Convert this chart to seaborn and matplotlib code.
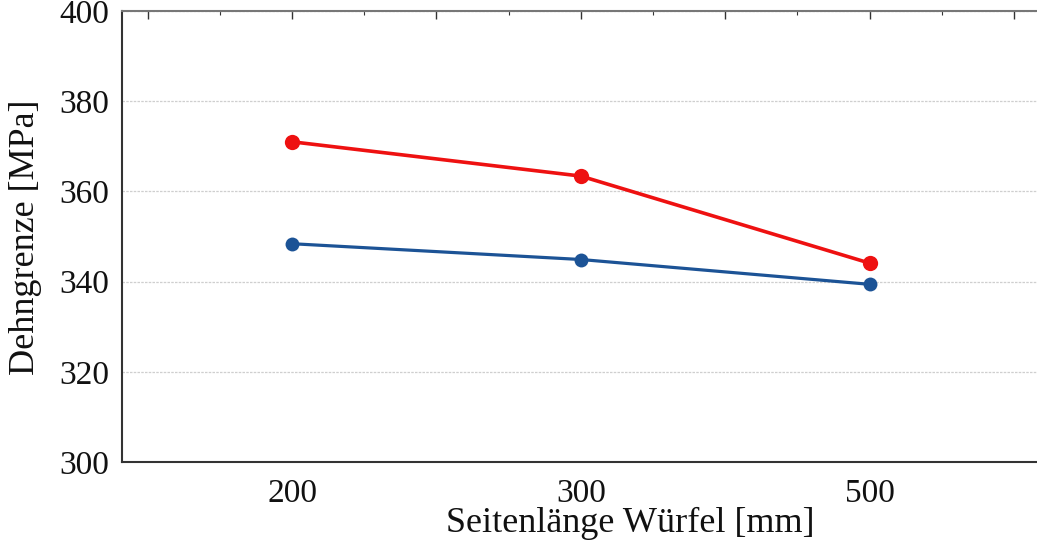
import matplotlib
matplotlib.use("Agg")
import matplotlib.pyplot as plt
import seaborn as sns
import pandas as pd
from matplotlib.ticker import MultipleLocator, FixedLocator, FixedFormatter

categories = ["200", "300", "500"]
red_values = [371.0, 363.4, 344.1]
blue_values = [348.4, 344.9, 339.4]
y_ticks = [300, 320, 340, 360, 380, 400]

sns.set_theme(style="white")
plt.rcParams["font.family"] = ["Liberation Serif", "DejaVu Serif"]

pos = list(range(len(categories)))
df = pd.DataFrame({
    "pos": pos * 2,
    "val": red_values + blue_values,
    "series": ["rot"] * len(pos) + ["blau"] * len(pos),
})

fig = plt.figure(figsize=(10.37, 5.44), dpi=100)
ax = fig.add_axes([122 / 1037, 82 / 544, 1.01 - 122 / 1037, (462 - 11) / 544])

sns.lineplot(data=df[df.series == "rot"], x="pos", y="val", ax=ax, color="#ee1111",
             linewidth=2.6, marker="o", markersize=11, markeredgewidth=0, legend=False)
sns.lineplot(data=df[df.series == "blau"], x="pos", y="val", ax=ax, color="#1c5396",
             linewidth=2.3, marker="o", markersize=10, markeredgewidth=0, legend=False)

ax.set_xlim(-0.589, 2.616)
ax.set_ylim(300, 400)

ax.xaxis.set_major_locator(FixedLocator([-0.5, 0, 0.5, 1, 1.5, 2, 2.5]))
ax.xaxis.set_major_formatter(FixedFormatter(["", categories[0], "", categories[1], "", categories[2], ""]))
ax.xaxis.set_minor_locator(MultipleLocator(0.25))
ax.yaxis.set_major_locator(FixedLocator(y_ticks))
ax.yaxis.set_minor_locator(MultipleLocator(5))

ax.tick_params(axis="both", which="major", direction="in", length=6, width=1, color="#333333",
               labelsize=24, top=True, right=True, labelcolor="#111111")
ax.tick_params(axis="x", which="major", pad=12)
ax.tick_params(axis="y", which="major", pad=9)
ax.tick_params(axis="both", which="minor", direction="in", length=3, width=0.8, color="#333333",
               top=True, right=True)

ax.yaxis.grid(True, which="major", color="#cfcfcf", linestyle=(0, (2, 1)), linewidth=0.9)
ax.xaxis.grid(False)

for s in ax.spines.values():
    s.set_color("#333333")
    s.set_linewidth(1.5)
ax.spines["top"].set_color("#777777")

ax.set_xlabel("Seitenlänge Würfel [mm]", fontsize=26, color="#111111")
ax.set_ylabel("Dehngrenze [MPa]", fontsize=26, color="#111111")
axw = 1.01 * 1037 - 122
ax.xaxis.set_label_coords((630 - 122) / axw, (462 - 507) / 451)
ax.yaxis.set_label_coords((42 - 122) / axw, (462 - 237) / 451)

fig.savefig("out.png", dpi=100, facecolor="white")
